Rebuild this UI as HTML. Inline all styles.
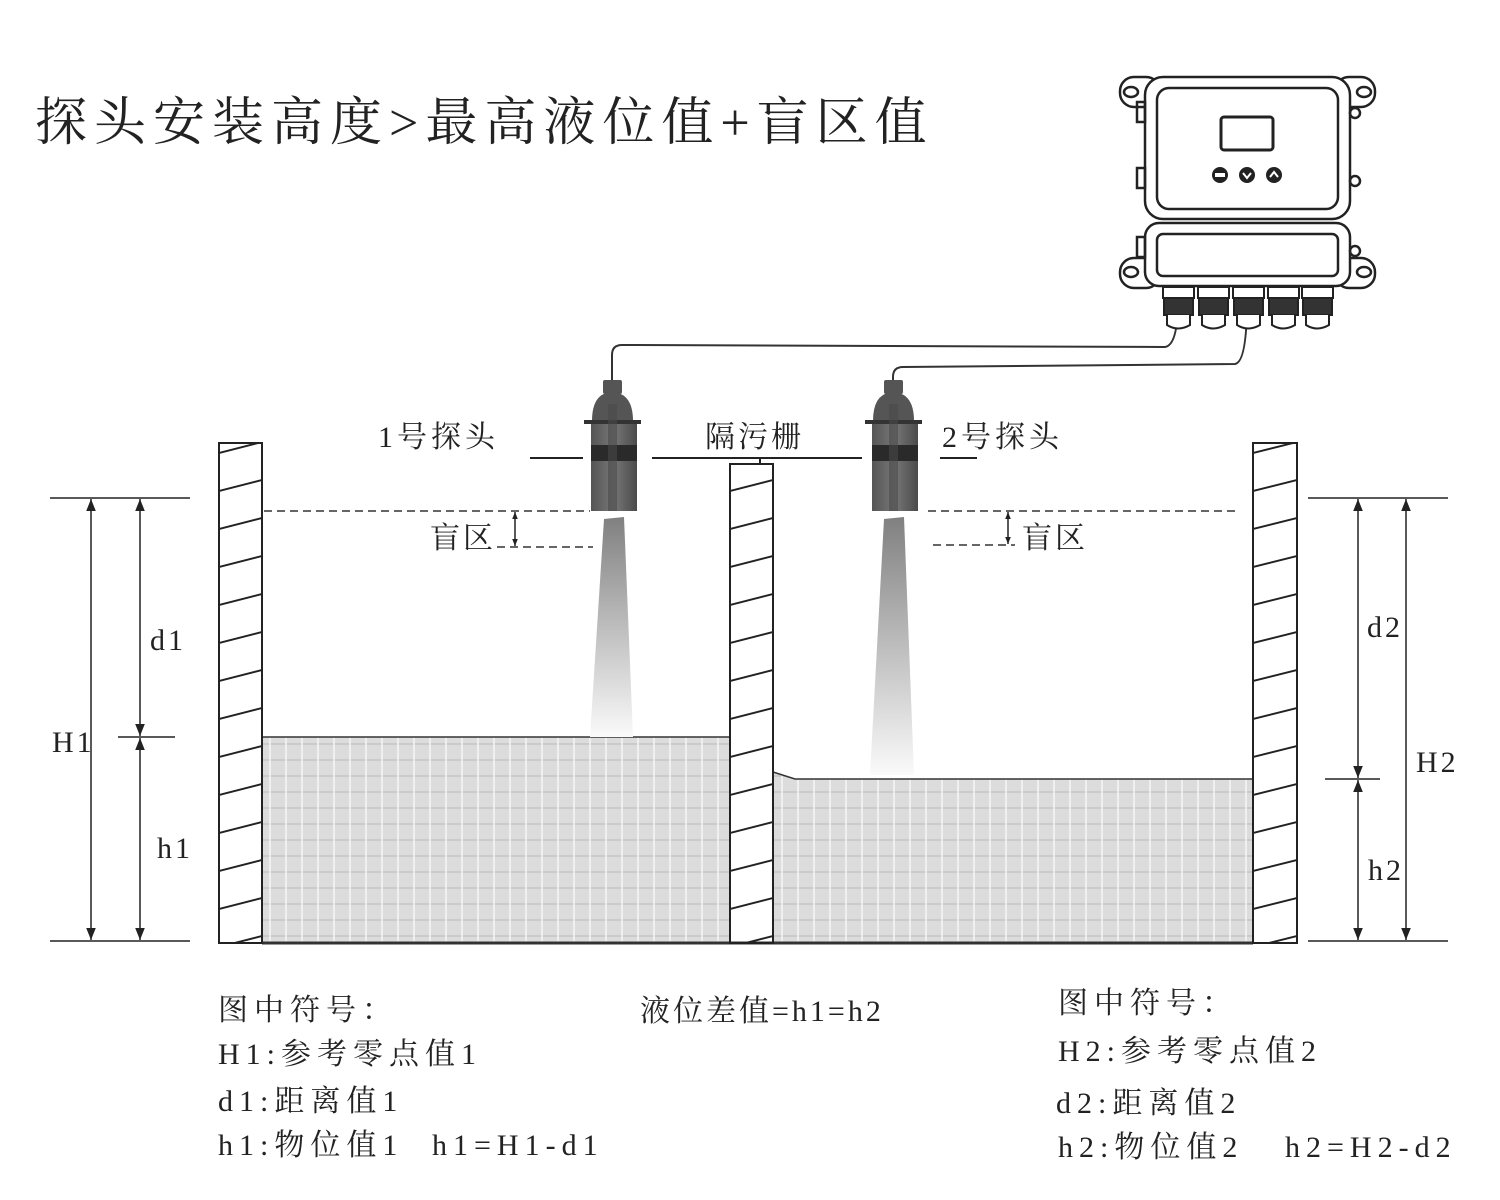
<!DOCTYPE html>
<html><head><meta charset="utf-8"><style>
html,body{margin:0;padding:0;background:#fff;}
svg{display:block;}
.t{font-family:"Liberation Serif","Noto Serif CJK SC",serif;fill:#222;}
</style></head><body>
<svg width="1500" height="1200" viewBox="0 0 1500 1200" xmlns="http://www.w3.org/2000/svg">
<defs>
<pattern id="hatchA" patternUnits="userSpaceOnUse" x="219" y="0" width="43" height="38">
<line x1="-2" y1="35.5" x2="45" y2="23.5" stroke="#222" stroke-width="2"/>
</pattern>
<pattern id="hatchB" patternUnits="userSpaceOnUse" x="730" y="0" width="43" height="38">
<line x1="-2" y1="35.5" x2="45" y2="23.5" stroke="#222" stroke-width="2"/>
</pattern>
<pattern id="hatchC" patternUnits="userSpaceOnUse" x="1253" y="0" width="44" height="38">
<line x1="-2" y1="35.5" x2="46" y2="23.5" stroke="#222" stroke-width="2"/>
</pattern>
<pattern id="grid" patternUnits="userSpaceOnUse" x="262" y="737" width="16" height="16">
<rect width="16" height="16" fill="#dcdcdc"/>
<line x1="0" y1="7" x2="16" y2="7" stroke="#c4c4c4" stroke-width="1.5"/>
<line x1="8" y1="0" x2="8" y2="16" stroke="#f6f6f6" stroke-width="1.5"/>
</pattern>
<linearGradient id="beam" x1="0" y1="0" x2="0" y2="1">
<stop offset="0" stop-color="#808080"/><stop offset="1" stop-color="#fafafa"/>
</linearGradient>
<linearGradient id="probe" x1="0" y1="0" x2="1" y2="0">
<stop offset="0" stop-color="#555"/><stop offset="0.5" stop-color="#777"/><stop offset="1" stop-color="#4a4a4a"/>
</linearGradient>
<marker id="ar" viewBox="0 0 10 10" refX="10" refY="5" markerWidth="12" markerHeight="12" orient="auto-start-reverse" markerUnits="userSpaceOnUse">
<path d="M0,1 L10,5 L0,9 Z" fill="#222"/></marker>
<marker id="ars" viewBox="0 0 10 10" refX="10" refY="5" markerWidth="7" markerHeight="7" orient="auto-start-reverse" markerUnits="userSpaceOnUse">
<path d="M0,1 L10,5 L0,9 Z" fill="#222"/></marker>
</defs>

<text class="t" x="35" y="140" font-size="52" letter-spacing="7">探头安装高度&gt;最高液位值+盲区值</text>

<rect x="262" y="737" width="468" height="206" fill="url(#grid)" stroke="#333" stroke-width="1.5"/>
<path d="M773,772 L795,779 L1253,779 L1253,943 L773,943 Z" fill="url(#grid)" stroke="#333" stroke-width="1.5"/>
<line x1="262" y1="943" x2="1253" y2="943" stroke="#333" stroke-width="3"/>

<rect x="219" y="443" width="43" height="500" fill="url(#hatchA)" stroke="#222" stroke-width="2"/>
<rect x="730" y="464" width="43" height="479" fill="url(#hatchB)" stroke="#222" stroke-width="2"/>
<rect x="1253" y="443" width="44" height="500" fill="url(#hatchC)" stroke="#222" stroke-width="2"/>

<polygon points="604,519 624,517 633,737 590,737" fill="url(#beam)"/>
<polygon points="884,519 904,517 914,775 870,775" fill="url(#beam)"/>

<path d="M612,382 L612,355 Q612,345 622,345 L1165,347 Q1178,345 1178,300" fill="none" stroke="#333" stroke-width="2"/>
<path d="M893,382 L893,377 Q893,367 903,367 L1235,364 Q1247,362 1247,300" fill="none" stroke="#333" stroke-width="2"/>

<g id="p1">
<rect x="603" y="380" width="19" height="14" rx="2" fill="#555"/>
<path d="M592,421 Q592,393 612,392 Q633,393 633,421 Z" fill="#555"/>
<rect x="584" y="420" width="57" height="4" fill="#333"/>
<rect x="591" y="424" width="46" height="87" fill="url(#probe)"/>
<rect x="591" y="445" width="46" height="16" fill="#2a2a2a"/>
<rect x="608" y="404" width="9" height="107" fill="#4a4a4a" opacity="0.6"/>
</g>
<use href="#p1" transform="translate(281,0)"/>

<line x1="530" y1="458" x2="583" y2="458" stroke="#222" stroke-width="2"/>
<line x1="652" y1="458" x2="862" y2="458" stroke="#222" stroke-width="2"/>
<line x1="760" y1="458" x2="760" y2="464" stroke="#222" stroke-width="2"/>
<line x1="940" y1="458" x2="977" y2="458" stroke="#222" stroke-width="2"/>
<text class="t" x="378" y="447" font-size="30" letter-spacing="4">1号探头</text>
<text class="t" x="705" y="447" font-size="30" letter-spacing="3">隔污栅</text>
<text class="t" x="942" y="447" font-size="30" letter-spacing="4">2号探头</text>

<line x1="264" y1="511" x2="590" y2="511" stroke="#333" stroke-width="1.5" stroke-dasharray="8,5"/>
<line x1="497" y1="547" x2="593" y2="547" stroke="#333" stroke-width="1.5" stroke-dasharray="8,5"/>
<line x1="515" y1="512" x2="515" y2="546" stroke="#222" stroke-width="1.5" marker-start="url(#ars)" marker-end="url(#ars)"/>
<text class="t" x="430" y="548" font-size="30" letter-spacing="3">盲区</text>
<line x1="928" y1="511" x2="1240" y2="511" stroke="#333" stroke-width="1.5" stroke-dasharray="8,5"/>
<line x1="933" y1="545" x2="1015" y2="545" stroke="#333" stroke-width="1.5" stroke-dasharray="8,5"/>
<line x1="1008" y1="512" x2="1008" y2="544" stroke="#222" stroke-width="1.5" marker-start="url(#ars)" marker-end="url(#ars)"/>
<text class="t" x="1022" y="548" font-size="30" letter-spacing="3">盲区</text>

<g stroke="#222" stroke-width="1.5">
<line x1="50" y1="498" x2="190" y2="498"/>
<line x1="50" y1="941" x2="190" y2="941"/>
<line x1="118" y1="737" x2="175" y2="737"/>
<line x1="91" y1="499" x2="91" y2="940" marker-start="url(#ar)" marker-end="url(#ar)"/>
<line x1="140" y1="499" x2="140" y2="736" marker-start="url(#ar)" marker-end="url(#ar)"/>
<line x1="140" y1="738" x2="140" y2="940" marker-start="url(#ar)" marker-end="url(#ar)"/>
<line x1="1308" y1="498" x2="1448" y2="498"/>
<line x1="1308" y1="941" x2="1448" y2="941"/>
<line x1="1325" y1="779" x2="1380" y2="779"/>
<line x1="1406" y1="499" x2="1406" y2="940" marker-start="url(#ar)" marker-end="url(#ar)"/>
<line x1="1358" y1="499" x2="1358" y2="778" marker-start="url(#ar)" marker-end="url(#ar)"/>
<line x1="1358" y1="780" x2="1358" y2="940" marker-start="url(#ar)" marker-end="url(#ar)"/>
</g>
<g class="t" font-size="30" letter-spacing="3">
<text x="52" y="752">H1</text>
<text x="150" y="650">d1</text>
<text x="157" y="858">h1</text>
<text x="1367" y="637">d2</text>
<text x="1416" y="772">H2</text>
<text x="1368" y="880">h2</text>
</g>

<g fill="none" stroke="#222" stroke-width="2.5">
<rect x="1120" y="77" width="40" height="30" rx="14"/><ellipse cx="1131" cy="92" rx="7" ry="5"/>
<rect x="1335" y="77" width="40" height="30" rx="14"/><ellipse cx="1364" cy="92" rx="7" ry="5"/>
<rect x="1120" y="258" width="40" height="30" rx="14"/><ellipse cx="1131" cy="272" rx="7" ry="5"/>
<rect x="1335" y="258" width="40" height="30" rx="14"/><ellipse cx="1364" cy="272" rx="7" ry="5"/>
<rect x="1145" y="77" width="205" height="142" rx="18" fill="#fff"/>
<rect x="1157" y="88" width="181" height="121" rx="12"/>
<rect x="1145" y="223" width="205" height="63" rx="14" fill="#fff"/>
<rect x="1157" y="234" width="181" height="42" rx="6"/>
<rect x="1221" y="117" width="52" height="33" rx="3" stroke-width="3"/>
<rect x="1137" y="102" width="8" height="20"/><rect x="1137" y="168" width="8" height="20"/><rect x="1137" y="237" width="8" height="20"/>
<circle cx="1355" cy="113" r="5"/><circle cx="1355" cy="181" r="5"/><circle cx="1355" cy="251" r="5"/>
</g>
<g fill="#222"><circle cx="1220" cy="175" r="8"/><circle cx="1247" cy="175" r="8"/><circle cx="1274" cy="175" r="8"/></g>
<g fill="#fff"><rect x="1215" y="173" width="10" height="4"/><path d="M1243,173 L1247,178 L1251,173" stroke="#fff" stroke-width="2" fill="none"/><path d="M1270,177 L1274,172 L1278,177" stroke="#fff" stroke-width="2" fill="none"/></g>
<g id="gl" stroke="#222" stroke-width="2">
<rect x="1163" y="287" width="31" height="11" fill="#fff"/>
<rect x="1164" y="298" width="29" height="17" fill="#333"/>
<path d="M1167,315 L1167,325 Q1178,332 1190,325 L1190,315" fill="#fff"/>
</g>
<use href="#gl" transform="translate(35,0)"/>
<use href="#gl" transform="translate(70,0)"/>
<use href="#gl" transform="translate(105,0)"/>
<use href="#gl" transform="translate(139,0)"/>

<g class="t" font-size="30" letter-spacing="6">
<text x="218" y="1020">图中符号：</text>
<text x="218" y="1064">H1:参考零点值1</text>
<text x="218" y="1111">d1:距离值1</text>
<text x="218" y="1155">h1:物位值1</text>
<text x="432" y="1155">h1=H1-d1</text>
<text x="640" y="1021" letter-spacing="3">液位差值=h1=h2</text>
<text x="1058" y="1013">图中符号：</text>
<text x="1058" y="1061">H2:参考零点值2</text>
<text x="1056" y="1113">d2:距离值2</text>
<text x="1058" y="1157">h2:物位值2</text>
<text x="1285" y="1157">h2=H2-d2</text>
</g>
</svg>
</body></html>
